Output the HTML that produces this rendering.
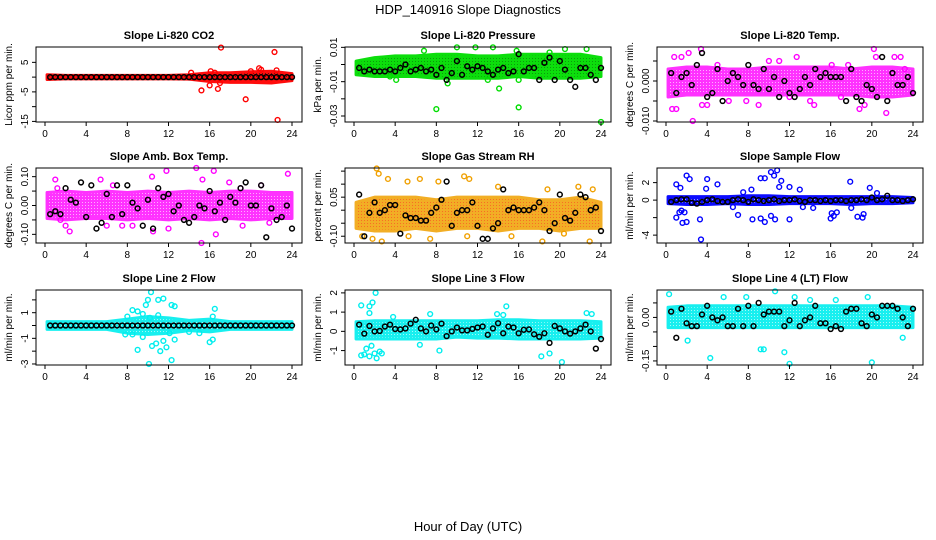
<!DOCTYPE html>
<html><head><meta charset="utf-8">
<style>
body{margin:0;background:#fff;}
svg{display:block;font-family:"Liberation Sans",sans-serif;}
</style></head>
<body>
<svg id="chart" width="936" height="540" viewBox="0 0 936 540">
<defs id="defs"></defs>
<text x="468" y="14" text-anchor="middle" font-size="13">HDP_140916  Slope Diagnostics</text>
<text x="468" y="531" text-anchor="middle" font-size="13">Hour of Day (UTC)</text>
</svg>
<script>
const xTicks = [0,4,8,12,16,20,24];
const bandHours = [0,2,4,6,8,10,12,14,16,18,20,22,24];

const co2Lo = [-0.8,-0.6,-0.6,-0.6,-0.6,-0.6,-0.6,-0.7,-1.5,-1.8,-1.8,-2,-1.2];
const co2Hi = [0.8,0.6,0.6,0.6,0.6,0.6,0.6,0.8,1.5,1.5,1.8,2,1.2];
const co2Black = [0,0,0,0,0,0,0,0,0,0,0,0,0,0,0,0,0,0,0,0,0,0,0,0,0,0,0,0,0,0,0,0,0,0,0,0,0,0,0,0,0,0,0,0,0,0,0,0];
const co2Out = [[17.1,10],[22.3,8.5],[15.2,-4.5],[16.8,-4],[19.5,-7.5],[22.6,-14.5],[16,-2.8],[20.8,3],[21,2.5],[14.2,1.5],[16.1,2],[20,2],[22.5,2.3],[16.5,1.5],[17,-2]];

const presLo = [-0.006,-0.007,-0.007,-0.007,-0.008,-0.008,-0.008,-0.008,-0.007,-0.008,-0.008,-0.008,-0.007];
const presHi = [0.002,0.004,0.005,0.005,0.006,0.006,0.005,0.005,0.006,0.006,0.006,0.006,0.004];
const presBlack = [-0.002,-0.004,-0.003,-0.004,-0.004,-0.004,-0.003,-0.004,-0.002,0.0,-0.004,-0.003,-0.002,-0.004,-0.003,-0.006,-0.002,-0.009,-0.005,0.002,-0.006,-0.001,-0.003,-0.001,-0.002,-0.004,-0.006,-0.003,-0.002,-0.005,-0.004,0.006,-0.004,-0.002,-0.002,-0.009,0.001,0.004,-0.009,0.002,-0.003,-0.009,-0.013,-0.002,-0.002,-0.006,-0.009,-0.002];
const presOut = [[8,-0.026],[16,-0.025],[24,-0.0335],[14.1,-0.014],[10,0.01],[13.5,0.01],[11.8,0.01],[22.6,0.009],[4.1,-0.009],[9.1,-0.011],[3.5,-0.007],[20.5,0.009],[6.8,0.008],[16,-0.009],[15.8,0.008],[19,0.007],[13,-0.009]];

const ltLo = [-0.004,-0.0035,-0.0035,-0.0035,-0.0035,-0.0035,-0.0035,-0.0035,-0.0035,-0.0035,-0.004,-0.004,-0.0035];
const ltHi = [0.003,0.0035,0.0035,0.003,0.003,0.0035,0.0035,0.0035,0.0035,0.003,0.0035,0.0035,0.003];
const ltBlack = [0.002,-0.003,0.001,0.002,-0.001,0.004,0.007,-0.004,-0.003,0.003,-0.005,0.000,0.002,0.001,-0.001,0.004,-0.001,-0.002,0.003,-0.002,0.001,-0.004,0.000,-0.003,-0.004,-0.002,0.001,-0.001,0.003,0.001,0.002,0.001,0.001,0.001,-0.005,0.003,-0.004,-0.005,-0.001,-0.002,-0.004,0.006,-0.005,0.002,-0.001,-0.001,0.001,-0.003];
const ltOut = [[0.6,-0.007],[1,-0.007],[2.6,-0.010],[3.4,0.008],[1.5,0.006],[0.8,0.006],[2.2,0.007],[3.5,-0.006],[4,-0.006],[7.8,-0.005],[9,-0.006],[10,0.005],[11,0.005],[12.7,0.006],[14,-0.005],[14.4,-0.006],[18.8,-0.007],[19.3,-0.006],[20.2,0.008],[20.4,0.006],[21.4,-0.008],[22.2,0.006],[22.8,0.006],[6.1,-0.005],[5,0.004],[16.1,0.004],[17,-0.004],[17.7,0.004],[23.2,0.003],[12,-0.004]];

const abLo = [-0.045,-0.05,-0.045,-0.045,-0.05,-0.045,-0.05,-0.045,-0.05,-0.045,-0.05,-0.045,-0.045];
const abHi = [0.045,0.05,0.045,0.05,0.045,0.05,0.045,0.05,0.045,0.05,0.05,0.045,0.045];
const abBlack = [-0.03,-0.02,-0.03,0.06,0.02,0.01,0.08,-0.04,0.07,-0.08,-0.06,0.04,-0.04,0.07,-0.03,0.07,0.01,-0.01,-0.07,0.02,-0.08,0.06,0.03,0.04,-0.02,0.00,-0.05,-0.06,-0.04,0.00,-0.01,0.05,-0.02,0.01,-0.05,0.03,0.01,0.06,0.08,0.00,0.00,0.07,-0.11,-0.01,-0.05,-0.04,0.00,-0.08];
const abOut = [[1,0.09],[1.2,0.06],[2,-0.07],[2.4,-0.09],[5.4,0.09],[6.6,0.07],[10.4,0.1],[11.8,0.12],[14.7,0.13],[15.3,0.09],[16.4,0.12],[17.9,0.08],[19,0.06],[21,0.07],[23.6,0.11],[8.5,-0.07],[10.5,-0.09],[16.6,-0.1],[15.2,-0.13],[21.8,-0.06],[1.5,-0.05],[12,-0.08],[19.2,-0.07],[6,-0.07],[7.5,-0.07]];

const rhLo = [-0.07,-0.08,-0.08,-0.07,-0.08,-0.07,-0.07,-0.08,-0.07,-0.07,-0.08,-0.07,-0.07];
const rhHi = [0.03,0.05,0.05,0.05,0.04,0.05,0.05,0.05,0.05,0.04,0.04,0.05,0.03];
const rhBlack = [0.06,-0.1,-0.01,0.03,-0.01,0.0,0.02,0.02,-0.09,-0.02,-0.03,-0.03,-0.04,-0.04,-0.01,0.01,0.04,0.11,-0.06,-0.01,0.0,0.0,0.03,-0.06,-0.11,-0.11,-0.07,-0.05,0.08,0.0,0.01,0.0,0.0,0.0,0.01,0.03,0.0,-0.08,-0.05,0.06,-0.03,-0.04,-0.01,0.06,0.05,0.0,0.01,-0.08];
const rhOut = [[2.2,0.16],[2.4,0.14],[3.3,0.12],[5.2,0.11],[6.4,0.12],[8.2,0.11],[10.7,0.13],[11.2,0.12],[14,0.09],[18.8,0.08],[21.8,0.09],[23.2,0.08],[2.7,-0.12],[0.8,-0.1],[1.8,-0.11],[5.3,-0.1],[7.4,-0.11],[11,-0.1],[18.3,-0.12],[22.9,-0.12],[15.3,-0.1],[20.4,-0.09]];

const sfLo = [-0.4,-0.5,-0.5,-0.4,-0.5,-0.5,-0.4,-0.4,-0.4,-0.5,-0.4,-0.4,-0.3];
const sfHi = [0.4,0.4,0.4,0.4,0.5,0.5,0.4,0.4,0.4,0.4,0.4,0.4,0.3];
const sfBlack = [-0.2,0,0.1,0.1,-0.3,-0.4,-0.2,0,0.1,-0.1,-0.2,-0.2,0,0.1,0,-0.2,0.1,0,-0.1,0,0.1,-0.1,0,0,0.1,-0.1,-0.2,0,0,-0.1,0,-0.1,0,0,-0.1,0,0,0.1,0,0.3,0,0.1,0.5,0,0,-0.1,0,0.1];
const sfOut = [[1,1.8],[2,2.8],[2.3,2.4],[1.4,1.4],[4,2.4],[3.9,1.3],[5,1.8],[9.2,2.5],[9.6,2.5],[10.2,3.2],[10.5,2.8],[10.8,3.4],[11.2,2.2],[11,1.5],[12,1.5],[13,1.2],[17.9,2.1],[19.8,1.4],[20.5,0.8],[1,-2],[1.3,-1.4],[1.5,-1.2],[1.6,-2.6],[2,-2.5],[1.8,-1.4],[3.3,-2.2],[3.4,-4.5],[7,-1.7],[8.4,-2.2],[9.2,-2.1],[9.6,-2.5],[10.2,-1.8],[10.6,-2.2],[12,-2.2],[13.3,-0.8],[16.1,-1.5],[16.3,-1.8],[16.6,-1.4],[16,-2.1],[18.6,-1.9],[19.1,-2],[19.2,-1.6],[8.3,1.2],[7.5,0.9],[6.5,-0.8],[14.3,-0.9],[18,-0.9]];

const l2Lo = [-0.3,-0.3,-0.3,-0.3,-0.6,-0.7,-0.6,-0.4,-0.5,-0.3,-0.3,-0.3,-0.3];
const l2Hi = [0.3,0.3,0.3,0.3,0.5,0.7,0.6,0.4,0.5,0.3,0.3,0.3,0.3];
const l2Black = [0,0,0,0,0,0,0,0,0,0,0,0,0,0,0,0,0,0,0,0,0,0,0,0,0,0,0,0,0,0,0,0,0,0,0,0,0,0,0,0,0,0,0,0,0,0,0,0];
const l2Out = [[8,0.7],[8.5,1.2],[9,1.1],[9.5,0.9],[9.8,1.6],[10,2],[10.3,2.6],[11,2],[11.5,2.1],[12.3,1.6],[12.6,1.5],[16.5,1.3],[16.3,0.7],[10.2,0.6],[11,0.8],[7.8,-0.7],[8.5,-0.7],[9,-1.9],[9.5,-0.9],[10.1,-3],[10.4,-1.6],[10.8,-1.4],[11.2,-2],[11.5,-1.2],[11.8,-1.7],[12.1,-0.6],[12.3,-2.7],[12.6,-1.1],[16,-1.3],[16.3,-1.1],[14,-0.5],[15,-0.6]];

const l3Lo = [-0.4,-0.4,-0.4,-0.4,-0.4,-0.3,-0.35,-0.35,-0.4,-0.4,-0.4,-0.4,-0.35];
const l3Hi = [0.5,0.55,0.55,0.55,0.55,0.55,0.55,0.6,0.6,0.55,0.55,0.55,0.5];
const l3Black = [0.35,-0.12,0.28,0.0,0.02,0.25,0.35,0.12,0.1,0.15,0.4,0.6,0.15,0.0,0.3,0.1,0.4,-0.25,0.0,0.2,0.05,0.05,0.13,0.2,0.25,-0.18,0.15,0.42,-0.1,0.25,0.2,-0.1,0.08,0.1,-0.15,-0.28,-0.1,-0.6,0.28,0.15,0.0,-0.12,0.0,0.15,0.35,0.0,-0.9,-0.4];
const l3Out = [[0.7,1.35],[1.5,1.3],[1.8,1.5],[2.1,2.0],[1.5,0.95],[1,-1.2],[0.7,-1.25],[1.2,-0.9],[1.5,-1.3],[2,-1.15],[2.5,-1.05],[2.2,-1.4],[2.7,-1.15],[1.7,-0.75],[6.4,-0.7],[8.3,-1.0],[13.9,0.9],[14.5,0.85],[14.8,1.3],[18.2,-1.3],[19,-1.15],[20.2,-1.6],[22.6,0.95],[23.1,0.9],[3.8,0.75],[7.4,0.9]];

const l4Lo = [-0.035,-0.035,-0.035,-0.035,-0.035,-0.035,-0.035,-0.035,-0.035,-0.035,-0.035,-0.035,-0.035];
const l4Hi = [0.035,0.04,0.04,0.04,0.04,0.04,0.04,0.04,0.04,0.04,0.04,0.04,0.035];
const l4Black = [0.02,-0.07,0.03,-0.02,-0.03,-0.03,0.01,0.04,0.0,-0.01,0.0,-0.03,-0.03,0.03,-0.03,0.04,-0.03,0.05,0.01,0.02,0.02,0.02,-0.03,-0.01,0.05,-0.03,-0.01,0.0,0.04,-0.02,-0.02,-0.04,-0.03,-0.04,0.02,0.03,0.03,-0.02,-0.03,0.01,0.0,0.04,0.04,0.04,0.03,0.0,-0.03,0.03];
const l4Out = [[0.3,0.08],[4.3,-0.14],[2.1,-0.08],[5.6,0.07],[7.8,0.07],[9.2,-0.11],[9.5,-0.11],[10.6,0.09],[11.5,-0.12],[12,-0.16],[12.5,0.07],[16.5,0.06],[19.6,0.07],[20,-0.155],[23,-0.07],[14,0.06]];

const panels = [
 {name:'co2',title:'Slope Li-820 CO2',ylab:'Licor ppm per min.',dom:[-15.2,10.2],ticks:[-15,-10,-5,0,5],labels:['-15','','-5','','5'],lo:co2Lo,hi:co2Hi,black:co2Black,out:co2Out,col:'#ff0000',dot:'#000',op:0.95},
 {name:'pressure',title:'Slope Li-820 Pressure',ylab:'kPa per min.',dom:[-0.0335,0.0102],ticks:[-0.03,-0.02,-0.01,0,0.01],labels:['-0.03','','-0.01','','0.01'],lo:presLo,hi:presHi,black:presBlack,out:presOut,col:'#00dd00',dot:'#006600',op:0.95},
 {name:'li-temp',title:'Slope Li-820 Temp.',ylab:'degrees C per min.',dom:[-0.01025,0.0085],ticks:[-0.01,-0.005,0,0.005],labels:['-0.010','','0.000',''],lo:ltLo,hi:ltHi,black:ltBlack,out:ltOut,col:'#ff00ff',dot:'#fff',op:0.8},
 {name:'amb-box-temp',title:'Slope Amb. Box Temp.',ylab:'degrees C per min.',dom:[-0.13,0.13],ticks:[-0.1,-0.05,0,0.05,0.1],labels:['-0.10','','0.00','','0.10'],lo:abLo,hi:abHi,black:abBlack,out:abOut,col:'#ff00ff',dot:'#fff',op:0.8},
 {name:'gas-rh',title:'Slope Gas Stream RH',ylab:'percent per min.',dom:[-0.126,0.162],ticks:[-0.1,-0.05,0,0.05,0.1,0.15],labels:['-0.10','','','0.05','',''],lo:rhLo,hi:rhHi,black:rhBlack,out:rhOut,col:'#f0a000',dot:'#ff2000',op:0.85},
 {name:'sample-flow',title:'Slope Sample Flow',ylab:'ml/min per min.',dom:[-4.9,3.67],ticks:[-4,-2,0,2],labels:['-4','','0','2'],lo:sfLo,hi:sfHi,black:sfBlack,out:sfOut,col:'#0000ff',dot:'#fff',op:0.95},
 {name:'line2-flow',title:'Slope Line 2 Flow',ylab:'ml/min per min.',dom:[-3.08,2.77],ticks:[-3,-2,-1,0,1,2],labels:['-3','','-1','','1',''],lo:l2Lo,hi:l2Hi,black:l2Black,out:l2Out,col:'#00eeee',dot:'#fff',op:0.9},
 {name:'line3-flow',title:'Slope Line 3 Flow',ylab:'ml/min per min.',dom:[-1.75,2.15],ticks:[-1,0,1,2],labels:['-1','0','1','2'],lo:l3Lo,hi:l3Hi,black:l3Black,out:l3Out,col:'#00eeee',dot:'#fff',op:0.9},
 {name:'line4-flow',title:'Slope Line 4 (LT) Flow',ylab:'ml/min per min.',dom:[-0.164,0.0945],ticks:[-0.15,-0.1,-0.05,0,0.05],labels:['-0.15','','','0.00',''],lo:l4Lo,hi:l4Hi,black:l4Black,out:l4Out,col:'#00eeee',dot:'#fff',op:0.9}
];

const NS='http://www.w3.org/2000/svg';
const svg=document.getElementById('chart');
const defs=document.getElementById('defs');
const lefts=[36,345,657], tops=[47,168,290], W=266, H=75;
function mk(tag,attrs,parent){const e=document.createElementNS(NS,tag);for(const k in attrs)e.setAttribute(k,attrs[k]);(parent||svg).appendChild(e);return e;}

panels.forEach((p,i)=>{
  const L=lefts[i%3], T=tops[Math.floor(i/3)];
  const xs=h=>L+9+h/24*247;
  const ys=v=>T+H-(v-p.dom[0])/(p.dom[1]-p.dom[0])*H;
  const pat=mk('pattern',{id:'pat'+i,width:3,height:3,patternUnits:'userSpaceOnUse'},defs);
  mk('rect',{width:3,height:3,fill:p.col},pat);
  mk('rect',{x:1,y:1,width:1,height:1,fill:p.dot,opacity:0.6},pat);
  const g=mk('g',{});
  
  
  let pts=bandHours.map((h,k)=>xs(Math.max(0.2,h))+','+ys(p.hi[k]));
  pts=pts.concat(bandHours.slice().reverse().map((h,k)=>xs(Math.max(0.2,h))+','+ys(p.lo[bandHours.length-1-k])));
  const band=mk('polygon',{points:pts.join(' '),fill:'url(#pat'+i+')',stroke:p.col,'stroke-width':3,'stroke-linejoin':'round',opacity:p.op},g);
  
  
  p.out.forEach(d=>{
    const c=mk('circle',{cx:xs(d[0]),cy:ys(d[1]),r:2.4,fill:'none',stroke:p.col,'stroke-width':1.4},g);
    
    
  });
  p.black.forEach((v,k)=>{
    const c=mk('circle',{cx:xs(0.5*(k+1)),cy:ys(v),r:2.4,fill:'none',stroke:'#000','stroke-width':1.5},g);
    
    
  });
  const box=mk('rect',{x:L,y:T,width:W,height:H,fill:'none',stroke:'#000','stroke-width':1},g);
  
  
  xTicks.forEach(t=>{
    mk('line',{x1:xs(t),x2:xs(t),y1:T+H,y2:T+H+4,stroke:'#000'},g);
    const tx=mk('text',{x:xs(t),y:T+H+15,'text-anchor':'middle','font-size':10},g);
    tx.textContent=t;
    
    
  });
  p.ticks.forEach((t,k)=>{
    mk('line',{x1:L-4,x2:L,y1:ys(t),y2:ys(t),stroke:'#000'},g);
    if(p.labels[k]){
      const tx=mk('text',{x:L-8,y:ys(t),'text-anchor':'middle','font-size':10,transform:`rotate(-90 ${L-8} ${ys(t)})`},g);
      tx.textContent=p.labels[k];
      
      
    }
  });
  const tt=mk('text',{x:L+W/2,y:T-8,'text-anchor':'middle','font-size':11,'font-weight':'bold'},g);
  tt.textContent=p.title;
  
  
  const yl=mk('text',{x:L-24,y:T+H/2,'text-anchor':'middle','font-size':10,transform:`rotate(-90 ${L-24} ${T+H/2})`},g);
  yl.textContent=p.ylab;
  
  
});
</script>
</body></html>
